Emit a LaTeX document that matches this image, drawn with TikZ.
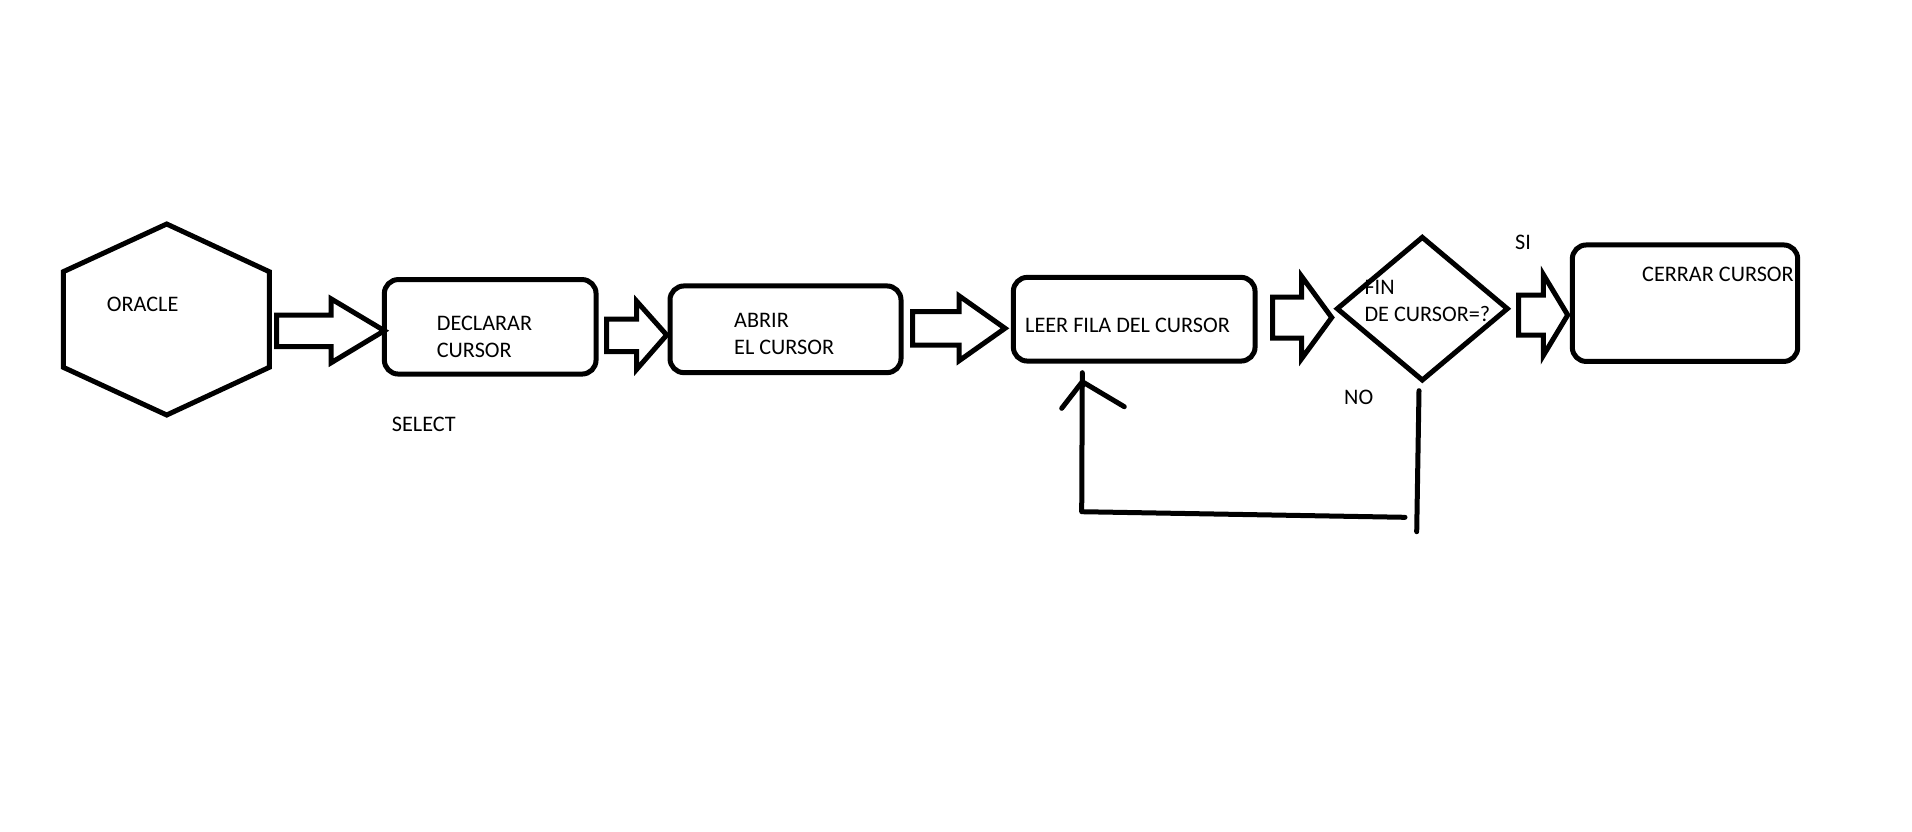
\documentclass[tikz,border=0pt]{standalone}
\usepackage{fontspec}
\setmainfont{Carlito}
\usetikzlibrary{shapes.geometric,calc}

% hollow block arrow: #1 tail point, #2 tip point, #3 head length,
% #4 half shaft width, #5 half head width
\newcommand\fatarrow[5]{%
  \draw[fatarrow] let \p1=#1, \p2=#2 in
    (\x1,\y1+#4) -- (\x2-#3,\y1+#4) -- (\x2-#3,\y1+#5) -- (\x2,\y2)
    -- (\x2-#3,\y1-#5) -- (\x2-#3,\y1-#4) -- (\x1,\y1-#4) -- cycle;}

\begin{document}
\begin{tikzpicture}[x=1pt,y=-1pt,
  stroke/.style={line width=5pt},
  procbox/.style={draw,stroke,rounded corners=14pt,inner sep=0pt,outer sep=0pt},
  decision/.style={draw,stroke,diamond,inner sep=0pt,outer sep=0pt},
  txt/.style={inner sep=0pt,anchor=west,align=left,
    font=\fontsize{22.2}{26.7}\selectfont},
  fatarrow/.style={draw,stroke,line join=miter},
  flow/.style={stroke,line cap=round,line join=round}]
\useasboundingbox (0,0) rectangle (1912,831);

% ORACLE hexagon
\draw[stroke,line join=miter] (166.7,224) -- (269.3,271.7) -- (269.3,367.3)
  -- (166.7,415) -- (63.3,367.3) -- (63.3,271.7) -- cycle;
\node[txt] (oracle) at (106.7,304.3) {ORACLE};

% process boxes and decision
\node[procbox,minimum width=211.7pt,minimum height=94.5pt] (declarar) at (490.2,326.8) {};
\node[procbox,minimum width=231pt,minimum height=86.7pt] (abrir) at (785.5,329.3) {};
\node[procbox,minimum width=241.7pt,minimum height=83.7pt] (leer) at (1134.2,319.2) {};
\node[decision,minimum width=170pt,minimum height=142.7pt] (fin) at (1422.3,308.7) {};
\node[procbox,minimum width=225.4pt,minimum height=116.5pt] (cerrar) at (1685,303.2) {};

% labels
\node[txt] (declarar-t) at (436.7,336.7) {DECLARAR\\CURSOR};
\node[txt] (select-t) at (391.7,424) {SELECT};
\node[txt] (abrir-t) at (734,334) {ABRIR\\EL CURSOR};
\node[txt] (leer-t) at (1025,325) {LEER FILA DEL CURSOR};
\node[txt] (fin-t) at (1364.3,300.8) {FIN\\DE CURSOR=?};
\node[txt] (si-t) at (1515,242.5) {SI};
\node[txt] (no-t) at (1344,397.3) {NO};
\node[txt] (cerrar-t) at (1642,274) {CERRAR CURSOR};

% block arrows between the steps
\coordinate (a1s) at (276.7,330.8);  \coordinate (a1e) at (declarar.west |- 0,330.7);
\coordinate (a2s) at (606.7,335.3);  \coordinate (a2e) at (666.7,335);
\coordinate (a3s) at (912.5,328.3);  \coordinate (a3e) at (1005,328.3);
\coordinate (a4s) at (1272.7,317.5); \coordinate (a4e) at (1331.7,317.5);
\coordinate (a5s) at (1518.7,315);   \coordinate (a5e) at (1567.7,315);
\fatarrow{(a1s)}{(a1e)}{53.3pt}{15.8pt}{32pt}
\fatarrow{(a2s)}{(a2e)}{30pt}{16.3pt}{34pt}
\fatarrow{(a3s)}{(a3e)}{46pt}{16.7pt}{32.5pt}
\fatarrow{(a4s)}{(a4e)}{30pt}{20.5pt}{41pt}
\fatarrow{(a5s)}{(a5e)}{24.4pt}{20pt}{40.5pt}

% NO branch back to reading the next row
\coordinate (no-top) at (1419,390.7);
\coordinate (no-bot) at (1416.7,531.7);
\coordinate (loop-r) at (1405,517.3);
\coordinate (loop-l) at (1081.7,511.7);
\coordinate (loop-tip) at (1082.3,372.7);
\coordinate (loop-head) at (1082.3,381.7);
\draw[flow] (no-top) -- (no-bot);
\draw[flow] (loop-r) -- (loop-l) -- (loop-tip);
\draw[flow] (1061.7,408.3) -- (loop-head) -- (1124.3,406.7);
\end{tikzpicture}
\end{document}
